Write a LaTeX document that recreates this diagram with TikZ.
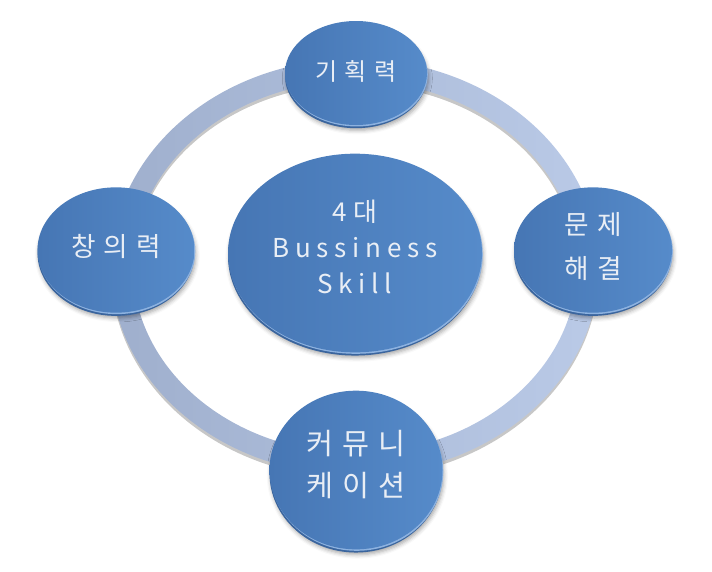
\documentclass[tikz,border=0pt]{standalone}
\usepackage{fontspec}
\setmainfont{Noto Sans CJK KR}
\newfontfamily\hanfont[LetterSpace=30]{Noto Sans CJK KR}
\newfontfamily\latfont[LetterSpace=22]{Noto Sans CJK KR}
\usetikzlibrary{shapes.geometric, shadows, shadows.blur}
\definecolor{satL}{HTML}{4676B4}
\definecolor{satR}{HTML}{568BCA}
\definecolor{rimD}{HTML}{3A659E}
\definecolor{rimL}{HTML}{8DB2E0}
\definecolor{ringL}{HTML}{9FAFCD}
\definecolor{ringR}{HTML}{BACAE7}
\definecolor{txtW}{HTML}{E9EEF5}
\tikzset{
    sat/.style n args={3}{
        ellipse, inner sep=0pt, minimum width=#1, minimum height=#2,
        text depth=#3, align=center, text=txtW,
        left color=satL, right color=satR,
        blur shadow={shadow xshift=1pt, shadow yshift=-4pt, shadow blur radius=3pt, shadow opacity=35},
        preaction={fill=rimD, transform canvas={yshift=-2.4pt}},
        preaction={fill=rimL, transform canvas={xshift=0.6pt, yshift=-1.1pt}}
    },
    ringband/.style={
        even odd rule, left color=ringL, right color=ringR
    },
    ringshade/.style={
        even odd rule, fill=black, opacity=.22, transform canvas={yshift=-2.5pt}
    }
}

\begin{document}
\begin{tikzpicture}[x=0.75pt, y=-0.75pt]
    \useasboundingbox (0,0) rectangle (712,571);
    \coordinate (rc) at (355, 267);
    \coordinate (c0) at (355, 253);
    \coordinate (c1) at (356, 73);
    \coordinate (c2) at (593, 250);
    \coordinate (c3) at (356, 470);
    \coordinate (c4) at (116, 250);
    % ring behind the circles
    \path[ringshade] (rc) ellipse [x radius=244, y radius=208] (rc) ellipse [x radius=222, y radius=186];
    \path[ringband] (rc) ellipse [x radius=244, y radius=208] (rc) ellipse [x radius=222, y radius=186];
    \node[sat={190.5pt}{149pt}{9pt}, font=\latfont\fontsize{19.5pt}{27pt}\selectfont] (skill) at (c0)
        {4대\\Bussiness\\Skill};
    \node[sat={106.5pt}{78pt}{4pt}, font=\hanfont\fontsize{18pt}{22pt}\selectfont] (plan) at (c1) {기획력};
    \node[sat={118.5pt}{94pt}{7pt}, font=\hanfont\fontsize{20pt}{33pt}\selectfont] (solve) at (c2) {문제\\해결};
    \node[sat={129.75pt}{119pt}{10pt}, font=\hanfont\fontsize{22pt}{31pt}\selectfont] (comm) at (c3) {커뮤니\\케이션};
    \node[sat={117.75pt}{94pt}{7pt}, font=\hanfont\fontsize{20pt}{24pt}\selectfont] (idea) at (c4) {창의력};
\end{tikzpicture}
\end{document}
